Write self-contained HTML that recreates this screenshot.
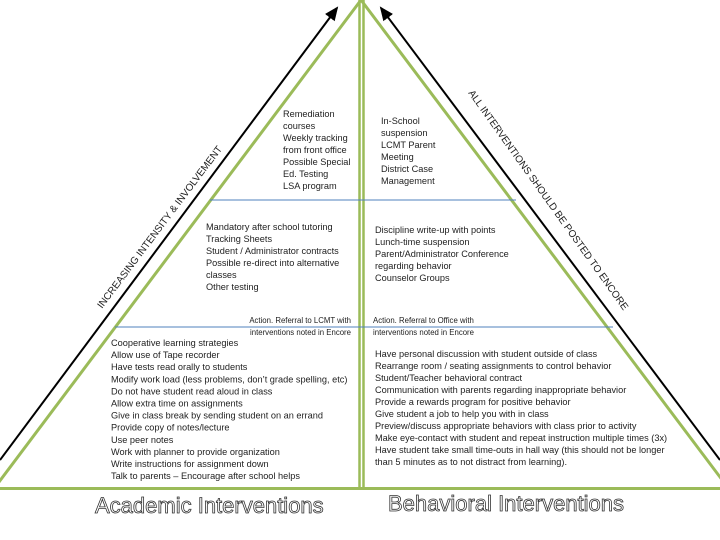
<!DOCTYPE html>
<html><head><meta charset="utf-8"><style>
html,body{margin:0;padding:0;background:#fff;}
svg{display:block;}
text{font-family:"Liberation Sans",sans-serif;font-size:9.2px;fill:#222;}
.t{font-size:22px;fill:#fff;stroke:#333;stroke-width:0.8px;}
.r{font-size:10px;fill:#222;}
</style></head><body>
<svg width="720" height="540" viewBox="0 0 720 540" xmlns="http://www.w3.org/2000/svg">
<defs><marker id="a" markerWidth="8" markerHeight="8" refX="6" refY="4" orient="auto"><path d="M0,1 L7,4 L0,7 z" fill="#000"/></marker></defs>
<line x1="361" y1="0" x2="-10" y2="494" stroke="#9bbb59" stroke-width="3"/>
<line x1="361" y1="0" x2="735" y2="497" stroke="#9bbb59" stroke-width="3"/>
<line x1="359.5" y1="0" x2="359.5" y2="488" stroke="#9bbb59" stroke-width="2.5"/>
<line x1="363.5" y1="0" x2="363.5" y2="488" stroke="#9bbb59" stroke-width="2.5"/>
<line x1="0" y1="488.5" x2="720" y2="488.5" stroke="#9bbb59" stroke-width="3"/>
<line x1="210" y1="200" x2="516" y2="200" stroke="#4f81bd" stroke-width="1"/>
<line x1="115" y1="327" x2="613" y2="327" stroke="#4f81bd" stroke-width="1"/>
<line x1="0" y1="460" x2="337" y2="8" stroke="#000" stroke-width="2" marker-end="url(#a)"/>
<line x1="720" y1="460" x2="381" y2="8" stroke="#000" stroke-width="2" marker-end="url(#a)"/>
<text class="r" transform="translate(102,309) rotate(-53)">INCREASING INTENSITY &amp; INVOLVEMENT</text>
<text class="r" transform="translate(468,93) rotate(54.5)">ALL INTERVENTIONS SHOULD BE POSTED TO ENCORE</text>
<text x="283" y="117"><tspan x="283">Remediation</tspan><tspan x="283" dy="12">courses</tspan><tspan x="283" dy="12">Weekly tracking</tspan><tspan x="283" dy="12">from front office</tspan><tspan x="283" dy="12">Possible Special</tspan><tspan x="283" dy="12">Ed. Testing</tspan><tspan x="283" dy="12">LSA program</tspan></text>
<text x="381" y="124"><tspan x="381">In-School</tspan><tspan x="381" dy="12">suspension</tspan><tspan x="381" dy="12">LCMT Parent</tspan><tspan x="381" dy="12">Meeting</tspan><tspan x="381" dy="12">District Case</tspan><tspan x="381" dy="12">Management</tspan></text>
<text x="206" y="230"><tspan x="206">Mandatory after school tutoring</tspan><tspan x="206" dy="12">Tracking Sheets</tspan><tspan x="206" dy="12">Student / Administrator contracts</tspan><tspan x="206" dy="12">Possible re-direct into alternative</tspan><tspan x="206" dy="12">classes</tspan><tspan x="206" dy="12">Other testing</tspan></text>
<text x="375" y="233"><tspan x="375">Discipline write-up with points</tspan><tspan x="375" dy="12">Lunch-time suspension</tspan><tspan x="375" dy="12">Parent/Administrator Conference</tspan><tspan x="375" dy="12">regarding behavior</tspan><tspan x="375" dy="12">Counselor Groups</tspan></text>
<text x="351" y="323" text-anchor="end" style="font-size:7.8px"><tspan x="351">Action. Referral to LCMT with</tspan><tspan x="351" dy="12">interventions noted in Encore</tspan></text>
<text x="373" y="323" style="font-size:7.8px"><tspan x="373">Action. Referral to Office with</tspan><tspan x="373" dy="12">interventions noted in Encore</tspan></text>
<text x="111" y="346"><tspan x="111">Cooperative learning strategies</tspan><tspan x="111" dy="12.1">Allow use of Tape recorder</tspan><tspan x="111" dy="12.1">Have tests read orally to students</tspan><tspan x="111" dy="12.1">Modify work load (less problems, don’t grade spelling, etc)</tspan><tspan x="111" dy="12.1">Do not have student read aloud in class</tspan><tspan x="111" dy="12.1">Allow extra time on assignments</tspan><tspan x="111" dy="12.1">Give in class break by sending student on an errand</tspan><tspan x="111" dy="12.1">Provide copy of notes/lecture</tspan><tspan x="111" dy="12.1">Use peer notes</tspan><tspan x="111" dy="12.1">Work with planner to provide organization</tspan><tspan x="111" dy="12.1">Write instructions for assignment down</tspan><tspan x="111" dy="12.1">Talk to parents – Encourage after school helps</tspan></text>
<text x="375" y="357"><tspan x="375">Have personal discussion with student outside of class</tspan><tspan x="375" dy="12">Rearrange room / seating assignments to control behavior</tspan><tspan x="375" dy="12">Student/Teacher behavioral contract</tspan><tspan x="375" dy="12">Communication with parents regarding inappropriate behavior</tspan><tspan x="375" dy="12">Provide a rewards program for positive behavior</tspan><tspan x="375" dy="12">Give student a job to help you with in class</tspan><tspan x="375" dy="12">Preview/discuss appropriate behaviors with class prior to activity</tspan><tspan x="375" dy="12">Make eye-contact with student and repeat instruction multiple times (3x)</tspan><tspan x="375" dy="12">Have student take small time-outs in hall way (this should not be longer</tspan><tspan x="375" dy="12">than 5 minutes as to not distract from learning).</tspan></text>
<text class="t" x="95" y="513">Academic Interventions</text>
<text class="t" x="388" y="511">Behavioral Interventions</text>
</svg>
</body></html>
